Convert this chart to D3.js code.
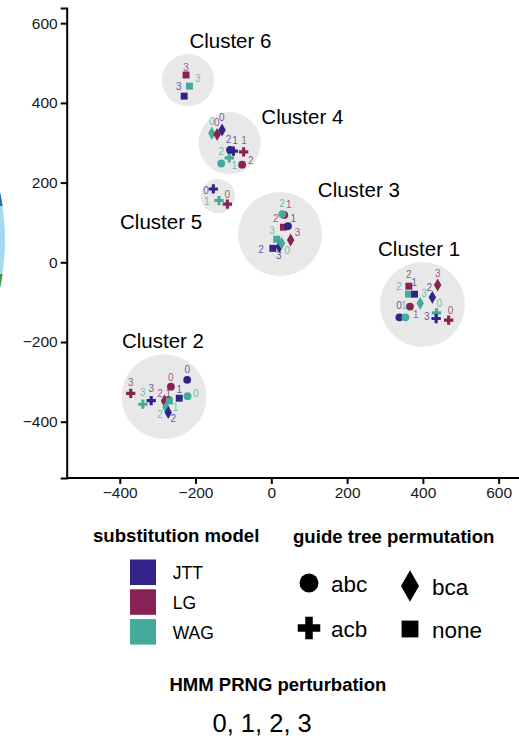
<!DOCTYPE html>
<html>
<head>
<meta charset="utf-8">
<script src="https://cdn.jsdelivr.net/npm/d3@7"></script>
<style>
  body { margin: 0; background: #fff; }
  text { font-family: "Liberation Sans", Arial, sans-serif; }
</style>
</head>
<body>
<div id="chart"></div>
<script>
let svgWidth = 519;
let svgHeight = 738;

// substitution models and guide tree permutations
let models = ["JTT", "LG", "WAG"];
let modelColors = ["#332288", "#882255", "#44AA99"];
let perms = ["abc", "acb", "bca", "none"];

let xTicks = [-400, -200, 0, 200, 400, 600];
let yTicks = [-400, -200, 0, 200, 400, 600];

// clusters: name, centre x, centre y, radius (x units), label x, label y
let clusters = [
    ["Cluster 1", 399, -106, 112, 390, 16],
    ["Cluster 2", -283, -337, 112, -286, -216],
    ["Cluster 3", 23, 71, 111, 231, 163],
    ["Cluster 4", -110, 299, 82, 82, 346],
    ["Cluster 5", -141, 166, 45, -291, 84],
    ["Cluster 6", -220, 457, 69, -108, 538]
];

// points: model, permutation, HMM PRNG perturbation, x, y, label x, label y
let points = [
    // cluster 6
    ["LG", "none", 3, -225, 470, -225, 490],
    ["WAG", "none", 3, -216, 442, -194, 462],
    ["JTT", "none", 3, -230, 417, -244, 441],
    // cluster 4
    ["WAG", "bca", 0, -157, 324, -157, 353],
    ["LG", "bca", 0, -143, 321, -144, 350],
    ["JTT", "bca", 0, -130, 332, -131, 364],
    ["WAG", "acb", 2, -111, 262, -132, 277],
    ["WAG", "abc", 1, -132, 248, -98, 242],
    ["LG", "abc", 2, -77, 245, -54, 256],
    ["JTT", "abc", 2, -109, 282, -113, 309],
    ["JTT", "acb", 1, -100, 279, -96, 306],
    ["LG", "acb", 1, -73, 277, -72, 305],
    // cluster 5
    ["JTT", "acb", 0, -153, 184, -172, 181],
    ["WAG", "acb", 1, -138, 155, -170, 152],
    ["LG", "acb", 0, -116, 146, -116, 171],
    // cluster 3
    ["LG", "abc", 1, 34, 119, 46, 146],
    ["WAG", "abc", 2, 29, 121, 28, 148],
    ["LG", "none", 2, 32, 88, 12, 109],
    ["JTT", "abc", 1, 44, 91, 58, 109],
    ["WAG", "none", 3, 14, 58, 2, 79],
    ["LG", "bca", 3, 51, 56, 69, 74],
    ["JTT", "none", 2, 4, 35, -27, 33],
    ["JTT", "bca", 3, 21, 39, 20, 16],
    ["WAG", "bca", 0, 27, 48, 42, 29],
    // cluster 1
    ["LG", "none", 2, 363, -60, 363, -30],
    ["WAG", "none", 2, 362, -80, 337, -61],
    ["JTT", "none", 1, 378, -80, 377, -51],
    ["LG", "bca", 3, 439, -57, 439, -28],
    ["JTT", "bca", 2, 425, -88, 417, -64],
    ["WAG", "bca", 3, 393, -103, 403, -78],
    ["LG", "abc", 1, 366, -111, 381, -132],
    ["JTT", "abc", 0, 338, -138, 337, -109],
    ["WAG", "abc", 1, 354, -138, 350, -109],
    ["WAG", "acb", 0, 436, -127, 443, -103],
    ["JTT", "acb", 3, 435, -141, 410, -137],
    ["LG", "acb", 0, 468, -145, 473, -122],
    // cluster 2
    ["LG", "abc", 0, -265, -312, -265, -289],
    ["JTT", "abc", 0, -222, -295, -222, -270],
    ["WAG", "abc", 0, -221, -336, -199, -329],
    ["JTT", "none", 1, -243, -341, -243, -319],
    ["LG", "acb", 3, -371, -329, -371, -301],
    ["JTT", "acb", 3, -317, -347, -317, -317],
    ["WAG", "acb", 3, -339, -356, -339, -327],
    ["LG", "bca", 2, -282, -348, -294, -329],
    ["LG", "none", 1, -273, -346, -272, -329],
    ["WAG", "none", 1, -269, -348, -253, -365],
    ["WAG", "bca", 2, -278, -364, -294, -383],
    ["JTT", "bca", 2, -272, -377, -259, -392]
];

let svg = d3.select("#chart")
    .append("svg")
    .attr("width", svgWidth)
    .attr("height", svgHeight);

// scales
let x = d3.scaleLinear().domain([-540, 660]).range([66.7, 521.4]);
let y = d3.scaleLinear().domain([-541, 638]).range([477.9, 8.05]);

let color = d3.scaleOrdinal().domain(models).range(modelColors);
let shape = d3.scaleOrdinal().domain(perms)
    .range([d3.symbolCircle, d3.symbolCross, d3.symbolDiamond, d3.symbolSquare]);

// piece of a neighbouring panel cut off at the left edge
let defs = svg.append("defs");
defs.append("clipPath").attr("id", "edgeTop")
    .append("rect").attr("x", -10).attr("y", 0).attr("width", 30).attr("height", 206);
defs.append("clipPath").attr("id", "edgeBottom")
    .append("rect").attr("x", -10).attr("y", 274).attr("width", 30).attr("height", 100);

let edge = svg.append("g");
edge.append("circle")
    .attr("cx", -218).attr("cy", 240).attr("r", 223)
    .attr("fill", "#a5d7f0");
edge.append("circle")
    .attr("cx", -218).attr("cy", 240).attr("r", 222)
    .attr("fill", "none").attr("stroke", "#2c6fae").attr("stroke-width", 2.5)
    .attr("clip-path", "url(#edgeTop)");
edge.append("circle")
    .attr("cx", -218).attr("cy", 240).attr("r", 222)
    .attr("fill", "none").attr("stroke", "#3f9a4a").attr("stroke-width", 2.5)
    .attr("clip-path", "url(#edgeBottom)");

// cluster backgrounds
let clusterGroup = svg.append("g");
clusterGroup.selectAll("circle")
    .data(clusters)
    .enter()
    .append("circle")
    .attr("cx", d => x(d[1]))
    .attr("cy", d => y(d[2]))
    .attr("r", d => x(d[3]) - x(0))
    .attr("fill", "#e8e8e8");

clusterGroup.selectAll("text")
    .data(clusters)
    .enter()
    .append("text")
    .attr("x", d => x(d[4]))
    .attr("y", d => y(d[5]))
    .attr("text-anchor", "middle")
    .attr("font-size", 20.5)
    .text(d => d[0]);

// points
svg.append("g").selectAll("path")
    .data(points)
    .enter()
    .append("path")
    .attr("transform", d => `translate(${x(d[3])},${y(d[4])})`)
    .attr("d", d => d3.symbol().type(shape(d[1])).size(48)())
    .attr("fill", d => color(d[0]));

svg.append("g").selectAll("text")
    .data(points)
    .enter()
    .append("text")
    .attr("x", d => x(d[5]))
    .attr("y", d => y(d[6]))
    .attr("text-anchor", "middle")
    .attr("dominant-baseline", "central")
    .attr("font-size", 10)
    .attr("fill", d => color(d[0]))
    .attr("fill-opacity", 0.75)
    .text(d => d[2]);

// axes
let bottomAxis = d3.axisBottom(x).tickValues(xTicks).tickSize(6).tickPadding(3)
    .tickFormat(d3.format("d"));
let leftAxis = d3.axisLeft(y).tickValues(yTicks).tickSize(6).tickPadding(3)
    .tickFormat(d3.format("d"));

let xAxis = svg.append("g")
    .attr("transform", `translate(0, ${y(-541)})`)
    .call(bottomAxis);
let yAxis = svg.append("g")
    .attr("transform", `translate(${x(-540)}, 0)`)
    .call(leftAxis);

[xAxis, yAxis].forEach(function (a) {
    a.select(".domain").attr("stroke", "#000").attr("stroke-width", 2);
    a.selectAll(".tick line").attr("stroke", "#000").attr("stroke-width", 2);
    a.selectAll(".tick text")
        .attr("font-size", 15.5)
        .attr("fill", "#1a1a1a")
        .style("font-family", "'Liberation Sans', Arial, sans-serif");
});
xAxis.select(".domain").attr("d", `M${x(-540)},0H${svgWidth + 5}`);

// legend: substitution model
let legend = svg.append("g");
legend.append("text")
    .attr("x", 93).attr("y", 542)
    .attr("font-size", 18.6).attr("font-weight", "bold")
    .text("substitution model");

let modelKeys = legend.selectAll(".key")
    .data(models)
    .enter()
    .append("g")
    .attr("transform", (d, i) => `translate(130, ${559.5 + i * 29.8})`);
modelKeys.append("rect")
    .attr("width", 26).attr("height", 25.5)
    .attr("fill", d => color(d));
modelKeys.append("text")
    .attr("x", 42.7).attr("y", 13.5)
    .attr("dominant-baseline", "central")
    .attr("font-size", 17.5)
    .text(d => d);

// legend: guide tree permutation
legend.append("text")
    .attr("x", 293).attr("y", 543)
    .attr("font-size", 18.6).attr("font-weight", "bold")
    .text("guide tree permutation");

let permPos = [[309, 583], [309, 628], [410, 586], [410, 629]];
let permKeys = legend.selectAll(".perm")
    .data(perms)
    .enter()
    .append("g")
    .attr("transform", (d, i) => `translate(${permPos[i][0]}, ${permPos[i][1]})`);
permKeys.append("path")
    .attr("d", d => d3.symbol().type(shape(d)).size(283)())
    .attr("fill", "#000");
permKeys.append("text")
    .attr("x", 22).attr("y", 1)
    .attr("dominant-baseline", "central")
    .attr("font-size", 22.5)
    .text(d => d);

// legend: HMM PRNG perturbation
legend.append("text")
    .attr("x", 169.5).attr("y", 691)
    .attr("font-size", 18.5).attr("font-weight", "bold")
    .text("HMM PRNG perturbation");

legend.append("text")
    .attr("x", 212.5).attr("y", 732)
    .attr("font-size", 25.5)
    .text("0, 1, 2, 3");
</script>
</body>
</html>
